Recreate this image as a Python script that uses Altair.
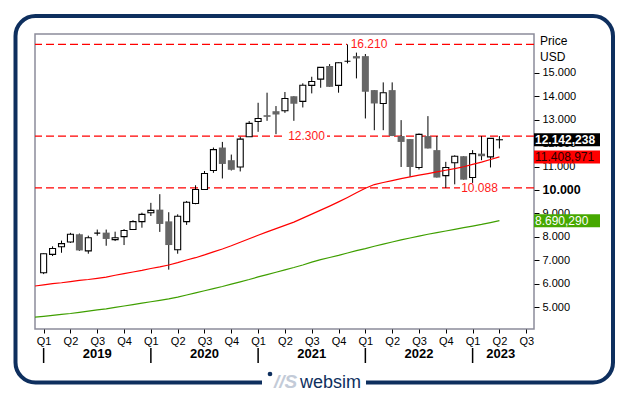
import altair as alt
import pandas as pd

# ---------------- data ----------------
months = ["2019-01", "2019-02", "2019-03", "2019-04", "2019-05", "2019-06",
          "2019-07", "2019-08", "2019-09", "2019-10", "2019-11", "2019-12",
          "2020-01", "2020-02", "2020-03", "2020-04", "2020-05", "2020-06",
          "2020-07", "2020-08", "2020-09", "2020-10", "2020-11", "2020-12",
          "2021-01", "2021-02", "2021-03", "2021-04", "2021-05", "2021-06",
          "2021-07", "2021-08", "2021-09", "2021-10", "2021-11", "2021-12",
          "2022-01", "2022-02", "2022-03", "2022-04", "2022-05", "2022-06",
          "2022-07", "2022-08", "2022-09", "2022-10", "2022-11", "2022-12",
          "2023-01", "2023-02", "2023-03", "2023-04"]
opens = [6470, 7250, 7580, 7780, 8110, 7400, 8160, 8180, 7880, 8010, 8310, 8650,
         9030, 9160, 8660, 7450, 8650, 9420, 10020, 10830, 11810, 11270, 10980, 12270,
         12920, 13190, 13360, 13380, 14000, 13780, 14460, 14730, 15290, 14460, 15490, 15710,
         15710, 14260, 13690, 14260, 12300, 12170, 10960, 12300, 11700, 10610, 11160, 11440,
         10530, 11550, 11410, 12142]
highs = [7300, 7595, 7840, 8170, 8140, 8050, 8310, 8310, 8220, 8330, 8710, 9030,
         9450, 9820, 9050, 8960, 9530, 10200, 10810, 11810, 12050, 11510, 12270, 12940,
         13720, 14150, 13580, 14180, 14000, 14550, 14830, 15230, 15370, 15450, 16210, 15860,
         15800, 14260, 14590, 14590, 12980, 12170, 12410, 13150, 12300, 11200, 11480, 11440,
         11700, 12300, 12200, 12300]
lows = [6410, 7180, 7320, 7740, 7400, 7280, 8050, 7620, 7820, 7650, 8310, 8390,
        8890, 8210, 6600, 7280, 8510, 9390, 10020, 10730, 10490, 10830, 10790, 12270,
        12480, 12950, 12380, 13290, 12950, 13520, 14120, 14360, 14400, 14150, 15400, 14760,
        13050, 12550, 12550, 12300, 10980, 10560, 10870, 11770, 10530, 10088, 10240, 10440,
        10300, 11270, 10960, 11770]
closes = [7280, 7500, 7710, 8110, 7420, 7960, 8160, 7910, 7960, 8270, 8650, 8960,
          9130, 8550, 7650, 8880, 9475, 10020, 10700, 11720, 11110, 10860, 12170, 12840,
          13050, 13120, 13220, 13900, 13680, 14470, 14630, 15230, 14400, 15430, 15490, 15610,
          14190, 13690, 14150, 12300, 12050, 10980, 12370, 11770, 10530, 10960, 11440, 10440,
          11550, 11440, 12200, 12142.238]

ma_months = ["2018-12"] + months
ma_red = [5900, 5950, 6000, 6040, 6090, 6140, 6180, 6230, 6280, 6360, 6430, 6500, 6570,
          6650, 6720, 6800, 6900, 7010, 7110, 7230, 7360, 7480, 7620, 7770, 7920,
          8070, 8210, 8350, 8490, 8630, 8800, 8970, 9140, 9310, 9490, 9680, 9880,
          10070, 10230, 10320, 10400, 10480, 10560, 10630, 10700, 10770, 10840, 10910, 10990,
          11090, 11190, 11300, 11408.971]
ma_green = [4570, 4610, 4650, 4690, 4730, 4780, 4830, 4880, 4930, 4990, 5050, 5110, 5170,
            5230, 5290, 5350, 5430, 5520, 5610, 5700, 5790, 5880, 5980, 6080, 6180,
            6290, 6390, 6490, 6590, 6690, 6800, 6920, 7030, 7120, 7210, 7310, 7410,
            7500, 7600, 7690, 7780, 7870, 7950, 8030, 8110, 8180, 8250, 8320, 8390,
            8460, 8530, 8610, 8690.290]

levels = [16210, 12300, 10088]
level_labels = ["16.210", "12.300", "10.088"]

last_values = [12142.238, 11408.971, 8690.290]
last_labels = ["12.142,238", "11.408,971", "8.690,290"]

years = ["2019", "2020", "2021", "2022", "2023"]
y_ticks = [5000, 6000, 7000, 8000, 9000, 10000, 11000, 12000, 13000, 14000, 15000]
quarter_ticks = list(range(0, 55, 3))

# ---------------- styles / layout ----------------
W, H = 499, 295
X_DOMAIN = [-0.406, 54.31]
Y_DOMAIN = [4068, 16654]
NAVY = "#0e2f5e"
level_label_x = [334, 271.5, 444.5]
level_gap_x = [336, 269.5, 445]
level_gap_w = [48, 45, 40]
box_colors = ["#000000", "#ff0000", "#46a800"]
box_text_colors = ["#ffffff", "#2a0000", "#ffffff"]
box_text_bold = [True, False, False]
FONT = "Liberation Sans"


def midx(s):
    y, m = s.split("-")
    return (int(y) - 2019) * 12 + int(m) - 1


candles = pd.DataFrame({
    "idx": [midx(m) for m in months],
    "open": opens, "high": highs, "low": lows, "close": closes,
})
candles["up"] = candles["close"] >= candles["open"]

ma = pd.DataFrame({
    "idx": [midx(m) for m in ma_months] * 2,
    "v": ma_red + ma_green,
    "s": ["red"] * len(ma_red) + ["green"] * len(ma_green),
})

lev = pd.DataFrame({"v": levels, "t": level_labels, "lx": level_label_x,
                    "gx": level_gap_x, "gw": level_gap_w})

lastdf = pd.DataFrame({"v": last_values, "t": last_labels, "c": box_colors,
                       "tc": box_text_colors, "b": box_text_bold})

year_starts = [midx(y + "-01") for y in years]
yrs = pd.DataFrame({
    "year": years,
    "start": year_starts,
    "center": [(max(s, X_DOMAIN[0]) + min(s + 12, X_DOMAIN[1])) / 2 for s in year_starts],
})

xscale = alt.Scale(domain=X_DOMAIN, nice=False, zero=False)
yscale = alt.Scale(domain=Y_DOMAIN, nice=False, zero=False)
xaxis = alt.Axis(values=quarter_ticks, orient="bottom", domain=False, grid=False,
                 tickSize=4, tickColor="#000000", tickWidth=1, labelPadding=2,
                 labelFontSize=11, labelColor="#000000", labelFont=FONT,
                 labelExpr="'Q' + (floor(datum.value / 3) % 4 + 1)",
                 labelFlush=False, labelOverlap=False, title="")
yaxis = alt.Axis(values=y_ticks, orient="right", domain=False, grid=False,
                 tickSize=5, tickColor="#000000", tickWidth=1, labelPadding=3,
                 labelColor="#000000", labelFont=FONT,
                 labelFontSize={"condition": {"test": "datum.value === 10000", "value": 12.5}, "value": 11},
                 labelFontWeight={"condition": {"test": "datum.value === 10000", "value": "bold"}, "value": "normal"},
                 labelExpr="replace(format(datum.value, ',d'), ',', '.')",
                 labelOverlap=False, title="")


def X(f):
    return alt.X(f, type="quantitative", scale=xscale, axis=xaxis)


def Y(f):
    return alt.Y(f, type="quantitative", scale=yscale, axis=yaxis)


one = alt.Data(values=[{}])

# decorative outer frame with the websim mark
frame = alt.Chart(one).mark_rect(filled=False, stroke=NAVY, strokeWidth=4, cornerRadius=20).encode(
    x=alt.value(-19.5), x2=alt.value(578), y=alt.value(-18), y2=alt.value(348.5))
logo_gap = alt.Chart(one).mark_rect(fill="white").encode(
    x=alt.value(227), x2=alt.value(331), y=alt.value(343), y2=alt.value(355))
logo_dot = alt.Chart(one).mark_point(filled=True, color=NAVY, size=22, opacity=1).encode(
    x=alt.value(235), y=alt.value(340))
logo_mark = alt.Chart(one).mark_text(text="//S", font=FONT, fontSize=19, fontWeight="bold",
                                     fontStyle="italic", color="#c3cbd8", align="left",
                                     baseline="alphabetic").encode(x=alt.value(239), y=alt.value(354))
logo_text = alt.Chart(one).mark_text(text="websim", font=FONT, fontSize=18, color=NAVY,
                                     align="left", baseline="alphabetic").encode(
    x=alt.value(265), y=alt.value(354))

# reference levels
lev_rules = alt.Chart(lev).mark_rule(color="#ff0000", strokeWidth=1.3, strokeDash=[8, 4]).encode(
    y=Y("v"))
lev_gaps = alt.Chart(lev).mark_tick(orient="horizontal", color="white", thickness=12, opacity=1).encode(
    x=alt.X("gx:Q", scale=None), y=Y("v"), size=alt.Size("gw:Q", scale=None, legend=None))
lev_text = alt.Chart(lev).mark_text(color="#ff1a1a", font=FONT, fontSize=12, align="center",
                                    baseline="middle").encode(
    x=alt.X("lx:Q", scale=None), y=Y("v"), text="t:N")

# candles
base = alt.Chart(candles)
wicks = base.mark_rule(color="#000000", strokeWidth=1).encode(x=X("idx"), y=Y("low"), y2="high")
up = base.transform_filter("datum.up").mark_bar(size=6, fill="white", stroke="#000000",
                                                 strokeWidth=1.1).encode(
    x=X("idx"), y=Y("open"), y2="close")
down = base.transform_filter("!datum.up").mark_bar(size=7, fill="#666666").encode(
    x=X("idx"), y=Y("open"), y2="close")

# moving averages
ma_lines = alt.Chart(ma).mark_line(strokeWidth=1.2, clip=True).encode(
    x=X("idx"), y=Y("v"), detail="s:N",
    color=alt.Color("s:N", scale=alt.Scale(domain=["red", "green"], range=["#ff0000", "#3f9f00"]),
                    legend=None))

# last-value boxes on the price axis
boxes = alt.Chart(lastdf).mark_tick(orient="horizontal", thickness=13, size=66, opacity=1).encode(
    x=alt.value(W + 33), y=Y("v"), color=alt.Color("c:N", scale=None))
box_text_b = alt.Chart(lastdf).transform_filter("datum.b").mark_text(
    font=FONT, fontSize=12, fontWeight="bold", align="left", baseline="middle").encode(
    x=alt.value(W + 1), y=Y("v"), text="t:N", color=alt.Color("tc:N", scale=None))
box_text_n = alt.Chart(lastdf).transform_filter("!datum.b").mark_text(
    font=FONT, fontSize=12, align="left", baseline="middle").encode(
    x=alt.value(W + 1), y=Y("v"), text="t:N", color=alt.Color("tc:N", scale=None))

price_t = alt.Chart(one).mark_text(text="Price", font=FONT, fontSize=12, align="left",
                                   baseline="middle", color="#000000").encode(
    x=alt.value(W + 6), y=alt.value(7))
usd_t = alt.Chart(one).mark_text(text="USD", font=FONT, fontSize=12, align="left",
                                 baseline="middle", color="#000000").encode(
    x=alt.value(W + 6), y=alt.value(23))

# year row
ysep = alt.Chart(yrs).mark_rule(color="#000000", strokeWidth=1.5).encode(
    x=X("start"), y=alt.value(314), y2=alt.value(329))
ylab = alt.Chart(yrs).mark_text(font=FONT, fontSize=13, fontWeight="bold", color="#000000",
                                baseline="middle").encode(
    x=X("center"), y=alt.value(320), text="year:N")

chart = alt.layer(
    frame, logo_gap, logo_dot, logo_mark, logo_text,
    lev_rules, lev_gaps, wicks, up, down, ma_lines, lev_text,
    boxes, box_text_b, box_text_n, price_t, usd_t, ysep, ylab,
).resolve_scale(color="independent").properties(
    width=W, height=H,
    autosize=alt.AutoSizeParams(type="none"),
    padding={"left": 27, "top": 26, "right": 86, "bottom": 62},
    background="white",
).configure(font=FONT).configure_view(stroke="#8c8c9a", strokeWidth=1.5)

chart.save("out.html", embed_options={"renderer": "svg", "actions": False})
